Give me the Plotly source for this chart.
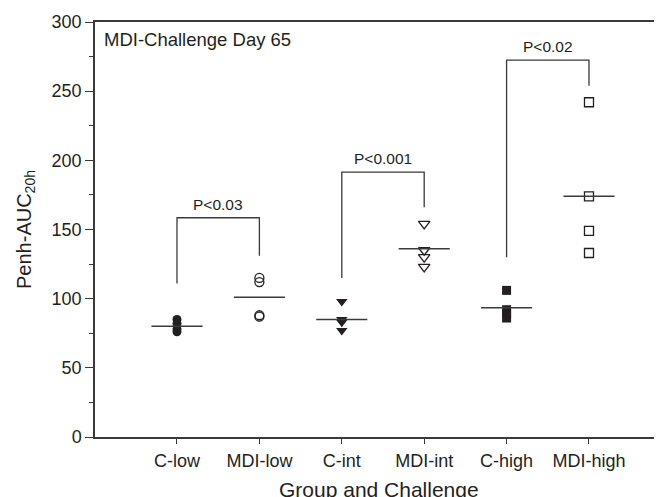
import plotly.graph_objects as go

categories = ["C-low", "MDI-low", "C-int", "MDI-int", "C-high", "MDI-high"]
values = [
    [85, 82, 78, 76],
    [115, 112, 88, 87],
    [98, 85, 83, 77],
    [154, 135, 130, 123],
    [106, 92, 89, 86],
    [242, 174, 149, 133],
]
group_means = [80, 101, 85, 136, 93.5, 174]
symbols = ["circle", "circle-open", "triangle-down", "triangle-down-open", "square", "square-open"]

# brackets: left idx, right idx, left bottom, right bottom, top, label
br_left = [0, 2, 4]
br_right = [1, 3, 5]
br_left_bottom = [111, 115, 130]
br_right_bottom = [131, 166, 254]
br_top = [158.5, 191.5, 272.5]
br_labels = ["P<0.03", "P<0.001", "P<0.02"]

y_ticks = [0, 50, 100, 150, 200, 250, 300]

INK = "#231f20"
LINE = "#3a3a3a"
FONT = "Liberation Sans, Arial, sans-serif"
HALF = 0.31

fig = go.Figure()

for i, (cat, vals, sym) in enumerate(zip(categories, values, symbols)):
    is_open = sym.endswith("open")
    fig.add_trace(go.Scatter(
        x=[i] * len(vals), y=vals, mode="markers", name=cat,
        marker=dict(symbol=sym, size=9 if not sym.startswith("triangle") else 10,
                    color=INK,
                    line=dict(color=INK, width=1.3 if is_open else 0)),
        showlegend=False, hoverinfo="y"))
    fig.add_trace(go.Scatter(
        x=[i - HALF, i + HALF], y=[group_means[i]] * 2, mode="lines",
        line=dict(color=LINE, width=1.5), showlegend=False, hoverinfo="skip"))

for l, r, lb, rb, top, lab in zip(br_left, br_right, br_left_bottom, br_right_bottom, br_top, br_labels):
    fig.add_trace(go.Scatter(
        x=[l, l, r, r], y=[lb, top, top, rb], mode="lines",
        line=dict(color=LINE, width=1.3), showlegend=False, hoverinfo="skip"))
    fig.add_annotation(x=(l + r) / 2, y=top, text=lab, showarrow=False,
                       xref="x", yref="y", yanchor="bottom", yshift=3,
                       font=dict(family=FONT, size=15.5, color=INK))

fig.add_annotation(x=(102 - 95) / 567, y=287, xref="paper", yref="y",
                   text="MDI-Challenge Day 65", showarrow=False,
                   xanchor="left", yanchor="middle",
                   font=dict(family=FONT, size=18.5, color=INK))

# x-axis title placed as paper annotation so it can sit partly below the page edge
fig.add_annotation(x=0.5, y=-0.127, xref="paper", yref="paper",
                   text="Group and Challenge", showarrow=False,
                   xanchor="center", yanchor="middle",
                   font=dict(family=FONT, size=21, color=INK))

# the page body adds an 8px offset, so the figure is sized to fit the window
fig.update_layout(
    width=654, height=489,
    margin=dict(l=87, r=0, t=14, b=60),
    paper_bgcolor="white", plot_bgcolor="white",
    font=dict(family=FONT, color=INK),
    xaxis=dict(
        range=[-0.995, 5.886], tickmode="array", tickvals=list(range(len(categories))),
        ticktext=categories, ticks="outside", ticklen=5, tickwidth=1, tickcolor=LINE,
        showline=True, linecolor=LINE, linewidth=1.5, mirror=True,
        showgrid=False, zeroline=False, ticklabelstandoff=2,
        tickfont=dict(family=FONT, size=18, color=INK),
        automargin=False,
    ),
    yaxis=dict(
        range=[0, 300], tickmode="array", tickvals=y_ticks,
        ticks="outside", ticklen=8, tickwidth=1, tickcolor=LINE,
        minor=dict(dtick=25, ticks="outside", ticklen=4, tickcolor=LINE, showgrid=False),
        showline=True, linecolor=LINE, linewidth=1.5, mirror=False,
        showgrid=False, zeroline=False,
        tickfont=dict(family=FONT, size=18, color=INK),
        title=dict(text="Penh-AUC<sub>20h</sub>", font=dict(family=FONT, size=20, color=INK), standoff=15),
        automargin=False,
    ),
)

fig.write_html("out.html")
